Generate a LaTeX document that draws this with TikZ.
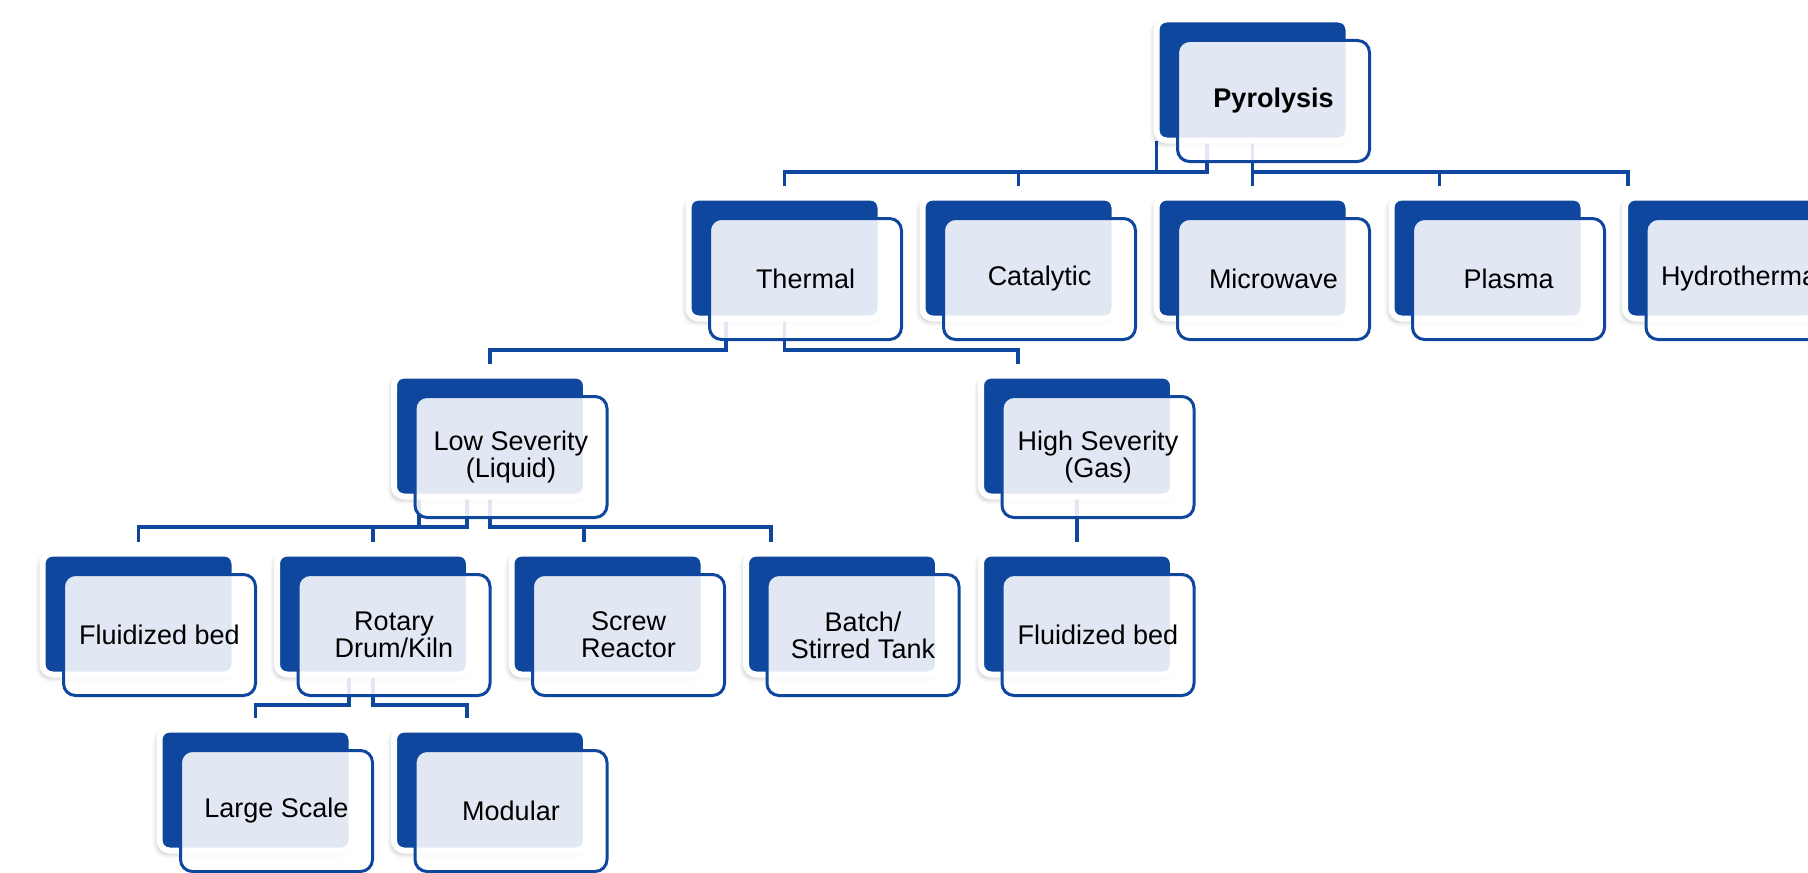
\documentclass[tikz,border=0pt]{standalone}
\usepackage{fontspec}
\setmainfont{Liberation Sans}
\usepackage{tikz}
\usetikzlibrary{backgrounds,shadows.blur}
\usepackage{xcolor}
\definecolor{cardblue}{HTML}{0E479D}

\tikzset{
  backcard/.style = {fill = cardblue, draw = white, line width = 3pt, rounded corners = 5pt,
    minimum width = 96pt, minimum height = 60.5pt, inner sep = 0pt, outer sep = 0pt,
    blur shadow = {shadow xshift = -1pt, shadow yshift = -1.5pt, shadow blur radius = 2.5pt, shadow opacity = 30}},
  frontcard/.style = {draw = cardblue, line width = 1.5pt, fill = white, fill opacity = 0.88,
    text opacity = 1, rounded corners = 6pt, minimum width = 96pt, minimum height = 60.5pt,
    inner sep = 0pt, outer sep = 0pt, align = center, font = \fontsize{13.5}{13.5}\selectfont},
  link/.style = {draw = cardblue, line width = 1.6pt},
  linkin/.style = {link, shorten > = 6pt}
}

\newcommand{\pcard}[4]{%
  \node[backcard] (#1-b) at (#2,#3) {};
  \node[frontcard] (#1) at ([shift={(21,21)}]#1-b.center) {#4};
}

\begin{document}
\begin{tikzpicture}[x = 0.5pt, y = -0.5pt]
\useasboundingbox (0,0) rectangle (1808,872);
\clip (0,0) rectangle (1808,872);

\pcard{pyro}{1252.5}{80}{\textbf{Pyrolysis}}

\pcard{thermal}{784.5}{258}{Thermal}
\pcard{catalytic}{1018.5}{258}{Catalytic}
\pcard{microwave}{1252.5}{258}{Microwave}
\pcard{plasma}{1487.5}{258}{Plasma}
\pcard{hydro}{1721}{258}{Hydrothermal}

\pcard{low}{490}{436}{Low Severity\\(Liquid)}
\pcard{high}{1077}{436}{High Severity\\(Gas)}

\pcard{fbliq}{138.5}{614}{Fluidized bed}
\pcard{rotary}{373}{614}{Rotary\\Drum/Kiln}
\pcard{screw}{607.5}{614}{Screw\\Reactor}
\pcard{batch}{842}{614}{Batch/\\Stirred Tank}
\pcard{fbgas}{1077}{614}{Fluidized bed}

\pcard{large}{255.5}{790}{Large Scale}
\pcard{modular}{490}{790}{Modular}

\begin{scope}[on background layer]
\coordinate (bus1) at ([shift={(0,31.5)}]pyro-b.south);
\coordinate (plasma-in) at ([shift={(-48,0)}]plasma-b.north);
\coordinate (hydro-in) at ([shift={(-93,0)}]hydro-b.north);
\draw[link] (pyro-b.south west) -- (bus1 -| pyro-b.south west);
\draw[linkin] ([shift={(-45.5,0)}]pyro-b.south) |- (bus1 -| thermal-b.north) -- (thermal-b.north);
\draw[linkin] (bus1 -| catalytic-b.north) -- (catalytic-b.north);
\draw[linkin] (pyro-b.south) -- (microwave-b.north);
\draw[linkin] (bus1 -| microwave-b.north) -| (hydro-in);
\draw[linkin] (bus1 -| plasma-in) -- (plasma-in);

\coordinate (bus2) at ([shift={(0,31.5)}]thermal-b.south);
\coordinate (high-in) at ([shift={(-59,0)}]high-b.north);
\draw[linkin] ([shift={(-58.5,0)}]thermal-b.south) |- (bus2 -| low-b.north) -- (low-b.north);
\draw[linkin] (thermal-b.south) |- (bus2 -| high-in) -- (high-in);

\coordinate (bus3) at ([shift={(0,30.5)}]low-b.south);
\coordinate (screw-in) at ([shift={(-23.5,0)}]screw-b.north);
\coordinate (batch-in) at ([shift={(-71,0)}]batch-b.north);
\draw[link] ([shift={(-71,0)}]low-b.south) -- ++(0,30.5);
\draw[linkin] ([shift={(-23,0)}]low-b.south) |- (bus3 -| fbliq-b.north) -- (fbliq-b.north);
\draw[linkin] (bus3 -| rotary-b.north) -- (rotary-b.north);
\draw[linkin] (low-b.south) |- (bus3 -| batch-in) -- (batch-in);
\draw[linkin] (bus3 -| screw-in) -- (screw-in);
\draw[linkin] (high-b.south) -- (fbgas-b.north);

\coordinate (bus4) at ([shift={(0,30.5)}]rotary-b.south);
\coordinate (modular-in) at ([shift={(-23,0)}]modular-b.north);
\draw[linkin] ([shift={(-24,0)}]rotary-b.south) |- (bus4 -| large-b.north) -- (large-b.north);
\draw[linkin] (rotary-b.south) |- (bus4 -| modular-in) -- (modular-in);
\end{scope}
\end{tikzpicture}
\end{document}
